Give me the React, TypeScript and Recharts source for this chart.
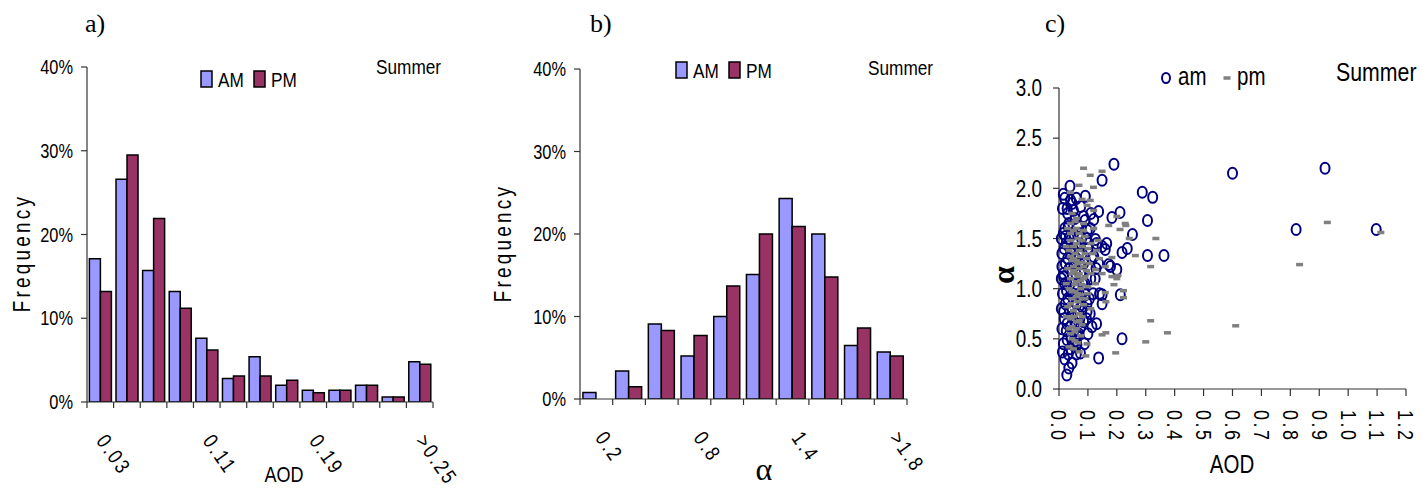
import React from "react";
import { BarChart, Bar, XAxis, YAxis, ScatterChart, Scatter } from "recharts";

// a) AOD histogram (frequency, %)
const aodBins = ["0.03", "0.05", "0.07", "0.09", "0.11", "0.13", "0.15", "0.17", "0.19", "0.21", "0.23", "0.25", ">0.25"];
const aodAM = [17.1, 26.6, 15.7, 13.2, 7.6, 2.8, 5.4, 2.0, 1.4, 1.4, 2.0, 0.6, 4.8];
const aodPM = [13.2, 29.5, 21.9, 11.2, 6.2, 3.1, 3.1, 2.6, 1.1, 1.4, 2.0, 0.6, 4.5];
const aodShown = ["0.03", "0.11", "0.19", ">0.25"];

// b) Angstrom exponent histogram (frequency, %)
const alphaBins = ["0.2", "0.4", "0.6", "0.8", "1.0", "1.2", "1.4", "1.6", "1.8", ">1.8"];
const alphaAM = [0.8, 3.4, 9.1, 5.2, 10.0, 15.1, 24.3, 20.0, 6.5, 5.7];
const alphaPM = [0, 1.5, 8.3, 7.7, 13.7, 20.0, 20.9, 14.8, 8.6, 5.2];
const alphaShown = ["0.2", "0.8", "1.4", ">1.8"];

const freqTicks = [0, 10, 20, 30, 40];
const aodTicks = [0, 0.1, 0.2, 0.3, 0.4, 0.5, 0.6, 0.7, 0.8, 0.9, 1.0, 1.1, 1.2];
const alphaTicks = [0, 0.5, 1.0, 1.5, 2.0, 2.5, 3.0];

// c) AOD vs alpha scatter, [aod, alpha]
const amPoints: [number, number][] = [
  [0.015, 1.94], [0.038, 2.02], [0.012, 1.8], [0.028, 1.8], [0.045, 1.85], [0.03, 1.75], [0.04, 1.88],
  [0.091, 1.92], [0.149, 2.08], [0.19, 2.24], [0.288, 1.96], [0.324, 1.91], [0.306, 1.68], [0.306, 1.33],
  [0.363, 1.33], [0.254, 1.54], [0.236, 1.4], [0.218, 1.36], [0.211, 1.76], [0.183, 1.71], [0.137, 1.77],
  [0.085, 1.72], [0.12, 1.69], [0.034, 1.65], [0.108, 1.6], [0.022, 1.52], [0.126, 1.49], [0.149, 1.42],
  [0.16, 1.39], [0.165, 1.45], [0.172, 1.24], [0.178, 1.22], [0.2, 1.19], [0.12, 1.32], [0.137, 1.25],
  [0.103, 1.45], [0.01, 1.22], [0.01, 1.35], [0.016, 1.12], [0.016, 1.15], [0.028, 1.05], [0.016, 0.77],
  [0.028, 0.65], [0.091, 0.94], [0.097, 0.85], [0.097, 0.77], [0.149, 0.85], [0.149, 0.94], [0.212, 0.94],
  [0.114, 0.62], [0.05, 0.57], [0.028, 0.49], [0.012, 0.37], [0.045, 0.26], [0.034, 0.21], [0.027, 0.14],
  [0.062, 0.44], [0.074, 0.36], [0.137, 0.31], [0.218, 0.5], [0.085, 0.67], [0.062, 0.54],
  [0.02, 1.6], [0.025, 1.45], [0.018, 1.4], [0.03, 1.3], [0.022, 1.25], [0.035, 1.2], [0.02, 1.05],
  [0.026, 0.98], [0.012, 0.95], [0.03, 0.9], [0.022, 0.85], [0.035, 0.8], [0.018, 0.7], [0.04, 0.62],
  [0.025, 0.58], [0.015, 0.45], [0.04, 0.4], [0.05, 1.55], [0.055, 1.7], [0.048, 1.4], [0.06, 1.3],
  [0.045, 1.1], [0.055, 1.0], [0.05, 0.88], [0.065, 0.75], [0.07, 0.95], [0.075, 1.15], [0.08, 1.35],
  [0.07, 1.55], [0.065, 1.62], [0.09, 1.68], [0.095, 1.5], [0.1, 1.4], [0.085, 1.25], [0.09, 1.05],
  [0.08, 0.82], [0.075, 0.62], [0.095, 0.7], [0.105, 0.9], [0.11, 1.1], [0.115, 1.3], [0.13, 1.45],
  [0.125, 1.1], [0.14, 0.95], [0.13, 0.65], [0.06, 0.35], [0.05, 0.45], [0.06, 1.45], [0.035, 1.5],
  [0.045, 0.72], [0.055, 0.66], [0.015, 1.55], [0.008, 1.5], [0.008, 1.1], [0.008, 0.8], [0.01, 0.6],
  [0.02, 1.9], [0.032, 1.62], [0.042, 1.35], [0.038, 1.05], [0.048, 0.95], [0.052, 1.25], [0.058, 1.15],
  [0.068, 1.35], [0.072, 1.25], [0.078, 1.5], [0.082, 1.05], [0.088, 0.98], [0.062, 0.85], [0.068, 0.55],
  [0.058, 0.48], [0.042, 0.52], [0.032, 0.35], [0.02, 0.3], [0.072, 0.7], [0.102, 1.2], [0.098, 1.58],
  [0.11, 1.75], [0.075, 1.82], [0.06, 1.9], [0.05, 1.78], [0.118, 0.95], [0.108, 0.75], [0.1, 0.55],
  [0.088, 0.45], [0.128, 1.2],
  [0.6, 2.15], [0.92, 2.2], [0.82, 1.59], [1.097, 1.59],
];
const pmPoints: [number, number][] = [
  [0.085, 2.2], [0.108, 2.13], [0.149, 2.17], [0.069, 2.03], [0.119, 2.01], [0.039, 1.96], [0.08, 1.89],
  [0.108, 1.88], [0.097, 1.83], [0.12, 1.78], [0.045, 1.75], [0.056, 1.67], [0.085, 1.65], [0.06, 1.7],
  [0.04, 1.65], [0.229, 1.65], [0.2, 1.72], [0.172, 1.63], [0.231, 1.63], [0.211, 1.59], [0.243, 1.5],
  [0.335, 1.5], [0.264, 1.33], [0.317, 1.22], [0.183, 1.31], [0.16, 1.22], [0.126, 1.19], [0.204, 1.13],
  [0.2, 1.1], [0.183, 1.12], [0.149, 1.15], [0.19, 1.04], [0.126, 1.05], [0.16, 0.96], [0.223, 0.98],
  [0.223, 0.91], [0.162, 0.87], [0.149, 0.54], [0.162, 0.56], [0.093, 0.33], [0.097, 0.45], [0.196, 0.36],
  [0.3, 0.47], [0.317, 0.68], [0.375, 0.56], [0.611, 0.63], [0.832, 1.24], [0.928, 1.66], [1.113, 1.56],
  [0.03, 1.6], [0.05, 1.58], [0.07, 1.55], [0.09, 1.52], [0.04, 1.48], [0.06, 1.45], [0.08, 1.42],
  [0.1, 1.4], [0.035, 1.38], [0.055, 1.35], [0.075, 1.32], [0.095, 1.3], [0.045, 1.28], [0.065, 1.25],
  [0.085, 1.22], [0.03, 1.2], [0.05, 1.18], [0.07, 1.15], [0.09, 1.12], [0.04, 1.1], [0.06, 1.07],
  [0.08, 1.04], [0.1, 1.02], [0.035, 1.0], [0.055, 0.97], [0.075, 0.94], [0.045, 0.9], [0.065, 0.87],
  [0.085, 0.84], [0.03, 0.82], [0.05, 0.78], [0.07, 0.75], [0.04, 0.7], [0.06, 0.67], [0.08, 0.64],
  [0.035, 0.6], [0.055, 0.57], [0.075, 0.53], [0.045, 0.5], [0.065, 0.46], [0.05, 0.4], [0.07, 0.37],
  [0.11, 1.45], [0.115, 1.35], [0.105, 1.25], [0.11, 1.15], [0.1, 0.95], [0.09, 0.9], [0.11, 0.8],
  [0.12, 1.6], [0.13, 1.38], [0.14, 1.3], [0.135, 1.48], [0.025, 1.42], [0.025, 1.05], [0.025, 0.72],
  [0.065, 1.5], [0.085, 1.58], [0.05, 1.3], [0.075, 1.08], [0.095, 1.18], [0.045, 0.62], [0.065, 0.95],
  [0.04, 1.55], [0.06, 1.6], [0.08, 1.48], [0.05, 1.42], [0.07, 1.38], [0.09, 1.35], [0.04, 1.32],
  [0.06, 1.28], [0.08, 1.26], [0.05, 1.22], [0.07, 1.2], [0.045, 1.15], [0.065, 1.12], [0.085, 1.1],
  [0.055, 1.04], [0.075, 1.0], [0.045, 0.97], [0.06, 0.92], [0.08, 0.9], [0.04, 0.85], [0.06, 0.82],
  [0.05, 0.72], [0.07, 0.68], [0.06, 0.6], [0.04, 0.55], [0.055, 0.48], [0.035, 0.42], [0.08, 0.72],
];

const aodData = aodBins.map((bin, i) => ({ bin, am: aodAM[i], pm: aodPM[i] }));
const alphaData = alphaBins.map((bin, i) => ({ bin, am: alphaAM[i], pm: alphaPM[i] }));
const amData = amPoints.map(([x, y]) => ({ x, y }));
const pmData = pmPoints.map(([x, y]) => ({ x, y }));

// Arial Narrow look: Liberation Sans squeezed horizontally
const SANS = "'Liberation Sans', Arial, sans-serif";
const SERIF = "'Liberation Serif', 'Times New Roman', serif";
const SQUEEZE = 0.82;
const AM_FILL = "#9999FF";
const PM_FILL = "#993366";
const AXIS = "#333";

const NText = ({ x, y, size, anchor = "start", rotate = 0, spacing = 0, baseline, children }: any) => (
  <text
    transform={`translate(${x} ${y}) rotate(${rotate}) scale(${SQUEEZE} 1)`}
    fontFamily={SANS}
    fontSize={size}
    letterSpacing={spacing}
    textAnchor={anchor}
    dominantBaseline={baseline}
    fill="#000"
  >
    {children}
  </text>
);

// category ticks on the bin edges, label only on some bins
const binTick = (shown: string[], dx: number, half: number) => (props: any) => {
  const { x, y, payload, index, visibleTicksCount } = props;
  const h = payload?.offset || half;
  const isLast = index === (visibleTicksCount ?? 0) - 1;
  return (
    <g>
      <line x1={x - h} x2={x - h} y1={y} y2={y + 6} stroke={AXIS} strokeWidth={1.2} />
      {isLast && <line x1={x + h} x2={x + h} y1={y} y2={y + 6} stroke={AXIS} strokeWidth={1.2} />}
      {shown.includes(payload.value) && (
        <NText x={x + dx} y={y + 35} size={21} rotate={55} spacing={3} baseline="central">
          {payload.value}
        </NText>
      )}
    </g>
  );
};

const pctTick = (props: any) => (
  <NText x={props.x} y={props.y} size={20} anchor="end" baseline="central">
    {`${props.payload.value}%`}
  </NText>
);

const alphaTick = (props: any) => (
  <NText x={props.x} y={props.y} size={23} anchor="end" baseline="central">
    {props.payload.value.toFixed(1)}
  </NText>
);

const aodTick = (props: any) => (
  <NText x={props.x} y={props.y} size={22} rotate={90} spacing={3} baseline="central">
    {props.payload.value.toFixed(1)}
  </NText>
);

const Ring = (props: any) => (
  <ellipse cx={props.cx} cy={props.cy} rx={4.5} ry={5.5} fill="none" stroke="#000080" strokeWidth={2} />
);
const Dash = (props: any) => (
  <rect x={props.cx - 3.5} y={props.cy - 1.75} width={7} height={3.5} fill="#808080" />
);

const Histogram = ({ data, shown, yAxisW, top, bottom, right, width, dx }: any) => {
  const plotW = width - yAxisW - right;
  return (
    <BarChart
      width={width}
      height={488}
      data={data}
      margin={{ top, right, bottom: 0, left: 0 }}
      barCategoryGap="9%"
      barGap={0}
    >
      <XAxis
        dataKey="bin"
        interval={0}
        height={bottom}
        tickLine={false}
        tickSize={0}
        tickMargin={0}
        axisLine={{ stroke: AXIS, strokeWidth: 1.2 }}
        tick={binTick(shown, dx, plotW / data.length / 2)}
      />
      <YAxis
        width={yAxisW}
        domain={[0, 40]}
        ticks={freqTicks}
        interval={0}
        allowDataOverflow
        tickSize={6}
        tickMargin={8}
        tick={pctTick}
        axisLine={{ stroke: AXIS, strokeWidth: 1.2 }}
        tickLine={{ stroke: AXIS, strokeWidth: 1.2 }}
      />
      <Bar dataKey="am" fill={AM_FILL} stroke="#000" strokeWidth={1.5} isAnimationActive={false} />
      <Bar dataKey="pm" fill={PM_FILL} stroke="#000" strokeWidth={1.5} isAnimationActive={false} />
    </BarChart>
  );
};

const BarLegend = ({ x, y }: { x: number; y: number }) => (
  <g>
    <rect x={x} y={y} width={11} height={16} fill={AM_FILL} stroke="#000" strokeWidth={1.5} />
    <NText x={x + 17} y={y + 15.5} size={21}>AM</NText>
    <rect x={x + 53} y={y} width={11} height={16} fill={PM_FILL} stroke="#000" strokeWidth={1.5} />
    <NText x={x + 70} y={y + 15.5} size={21}>PM</NText>
  </g>
);

export default function App() {
  return (
    <div style={{ position: "absolute", left: 0, top: 0, width: 1422, height: 488, background: "#fff" }}>
      <div style={{ position: "absolute", left: 0, top: 0 }}>
        <Histogram data={aodData} shown={aodShown} yAxisW={87} top={67} bottom={86} right={47} width={480} dx={1} />
      </div>
      <div style={{ position: "absolute", left: 480, top: 0 }}>
        <Histogram data={alphaData} shown={alphaShown} yAxisW={100} top={69} bottom={89} right={33} width={460} dx={4} />
      </div>
      <div style={{ position: "absolute", left: 960, top: 0 }}>
        <ScatterChart width={462} height={488} margin={{ top: 88, right: 16, bottom: 0, left: 0 }}>
          <XAxis
            type="number"
            dataKey="x"
            domain={[0, 1.2]}
            ticks={aodTicks}
            interval={0}
            height={99}
            tickSize={7}
            tickMargin={14}
            tick={aodTick}
            axisLine={{ stroke: AXIS, strokeWidth: 1.2 }}
            tickLine={{ stroke: AXIS, strokeWidth: 1.2 }}
          />
          <YAxis
            type="number"
            dataKey="y"
            width={99}
            domain={[0, 3]}
            ticks={alphaTicks}
            interval={0}
            tickSize={6}
            tickMargin={11}
            tick={alphaTick}
            axisLine={{ stroke: AXIS, strokeWidth: 1.2 }}
            tickLine={{ stroke: AXIS, strokeWidth: 1.2 }}
          />
          <Scatter name="am" data={amData} shape={Ring} isAnimationActive={false} />
          <Scatter name="pm" data={pmData} shape={Dash} isAnimationActive={false} />
        </ScatterChart>
      </div>
      <svg width={1422} height={488} style={{ position: "absolute", left: 0, top: 0, pointerEvents: "none" }}>
        <g fontFamily={SERIF} fontSize={26} fill="#000">
          <text x={85} y={32}>a)</text>
          <text x={590} y={32}>b)</text>
          <text x={1045} y={32}>c)</text>
        </g>
        <NText x={376} y={74} size={21}>Summer</NText>
        <NText x={868} y={75} size={21}>Summer</NText>
        <NText x={1336} y={81} size={26}>Summer</NText>
        <NText x={22} y={253} size={23} spacing={4} anchor="middle" baseline="central" rotate={-90}>Frequency</NText>
        <NText x={503} y={243} size={23} spacing={4} anchor="middle" baseline="central" rotate={-90}>Frequency</NText>
        <NText x={284} y={482} size={22} anchor="middle">AOD</NText>
        <NText x={1232} y={473} size={25} anchor="middle">AOD</NText>
        <text x={764} y={480} fontFamily={SERIF} fontSize={32} textAnchor="middle">α</text>
        <text x={1003} y={275} fontFamily={SERIF} fontSize={32} fontWeight="bold" textAnchor="middle" dominantBaseline="central" transform="rotate(-90 1003 275)">α</text>
        <BarLegend x={201} y={71} />
        <BarLegend x={676} y={62} />
        <ellipse cx={1166} cy={78} rx={4} ry={5} fill="none" stroke="#000080" strokeWidth={2} />
        <NText x={1178} y={85} size={25}>am</NText>
        <rect x={1223.5} y={76.25} width={7} height={3.5} fill="#808080" />
        <NText x={1237} y={85} size={25}>pm</NText>
      </svg>
    </div>
  );
}
